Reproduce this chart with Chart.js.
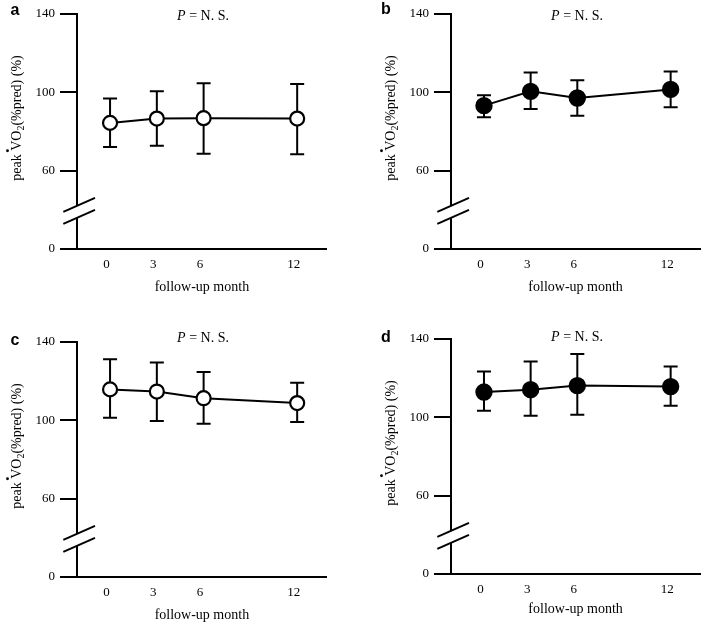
<!DOCTYPE html>
<html>
<head>
<meta charset="utf-8">
<script src="https://cdn.jsdelivr.net/npm/chart.js@4.4.1/dist/chart.umd.min.js"></script>
<style>
html,body{margin:0;padding:0;background:#fff;width:710px;height:625px;overflow:hidden;}
.p{position:absolute;width:336px;height:300px;}
</style>
</head>
<body>
<div class="p" style="left:0;top:0"><canvas id="ca" width="336" height="300"></canvas></div>
<div class="p" style="left:374px;top:0"><canvas id="cb" width="336" height="300"></canvas></div>
<div class="p" style="left:0;top:328px"><canvas id="cc" width="336" height="300"></canvas></div>
<div class="p" style="left:374px;top:325px"><canvas id="cd" width="336" height="300"></canvas></div>
<script>
// ---- data ----
const months = [0, 3, 6, 12];
const monthLabels = ['0', '3', '6', '12'];
const yTickValues = [20, 60, 100, 140];   // 20 = position of the "0" below the axis break
const yTickLabels = ['0', '60', '100', '140'];
const breakAt = 39;
const panelLetters = ['a', 'b', 'c', 'd'];
const xTitle = 'follow-up month';
const pLabel = 'P';
const pValue = ' = N. S.';

const meanA  = [84.4, 86.6, 86.8, 86.6];
const upperA = [96.8, 100.5, 104.6, 104.3];
const lowerA = [72.1, 72.7, 68.6, 68.4];

const meanB  = [93.2, 100.5, 97.1, 101.5];
const upperB = [98.5, 110.1, 106.2, 110.6];
const lowerB = [87.3, 91.5, 88.0, 92.4];

const meanC  = [115.8, 114.7, 111.3, 108.8];
const upperC = [131.2, 129.5, 124.7, 119.2];
const lowerC = [101.3, 99.7, 98.2, 99.2];

const meanD  = [112.9, 114.1, 116.2, 115.7];
const upperD = [123.4, 128.5, 132.3, 125.9];
const lowerD = [103.3, 100.8, 101.3, 105.9];

const SERIF = '"Liberation Serif", "Times New Roman", serif';

const errorBars = {
  id: 'errorBars',
  beforeDatasetsDraw(chart) {
    const ctx = chart.ctx, xs = chart.scales.x, ys = chart.scales.y;
    chart.data.datasets.forEach(ds => {
      ctx.save();
      ctx.strokeStyle = '#000';
      ctx.lineWidth = 2;
      ds.data.forEach((p, i) => {
        const x = xs.getPixelForValue(p.x);
        const yt = ys.getPixelForValue(ds.upper[i]);
        const yb = ys.getPixelForValue(ds.lower[i]);
        ctx.beginPath();
        ctx.moveTo(x, yt); ctx.lineTo(x, yb);
        ctx.moveTo(x - 7, yt); ctx.lineTo(x + 7, yt);
        ctx.moveTo(x - 7, yb); ctx.lineTo(x + 7, yb);
        ctx.stroke();
      });
      ctx.restore();
    });
  }
};

const deco = {
  id: 'deco',
  afterDraw(chart, args, opts) {
    const ctx = chart.ctx, ys = chart.scales.y;
    const ax = chart.chartArea.left;
    const top = chart.chartArea.top;
    ctx.save();
    // axis break
    const yc = ys.getPixelForValue(breakAt);
    ctx.fillStyle = '#fff';
    ctx.fillRect(ax - 3, yc - 6, 6, 12);
    ctx.strokeStyle = '#000';
    ctx.lineWidth = 2;
    const s = 0.44;
    [yc - 6, yc + 6].forEach(y0 => {
      ctx.beginPath();
      ctx.moveTo(ax - 13.7, y0 + 13.7 * s);
      ctx.lineTo(ax + 18, y0 - 18 * s);
      ctx.stroke();
    });
    // panel letter
    ctx.fillStyle = '#000';
    ctx.font = 'bold 16px "Liberation Sans", Arial, sans-serif';
    ctx.textAlign = 'center';
    ctx.textBaseline = 'middle';
    ctx.fillText(opts.letter, opts.lx, top + opts.ly);
    // P = N. S.
    ctx.font = 'italic 14px ' + SERIF;
    const w1 = ctx.measureText(pLabel).width;
    ctx.font = '14px ' + SERIF;
    const w2 = ctx.measureText(pValue).width;
    const sx = 203 - (w1 + w2) / 2;
    const by = top + opts.py + 5;
    ctx.textAlign = 'left';
    ctx.textBaseline = 'alphabetic';
    ctx.font = 'italic 14px ' + SERIF;
    ctx.fillText(pLabel, sx, by);
    ctx.font = '14px ' + SERIF;
    ctx.fillText(pValue, sx + w1, by);
    // y title
    const parts = ['peak V', 'O', '2', '(%pred) (%)'];
    ctx.font = '14px ' + SERIF;
    const wA = ctx.measureText('peak ').width;
    const wV = ctx.measureText('V').width;
    const wP0 = ctx.measureText(parts[0]).width;
    const wP1 = ctx.measureText(parts[1]).width;
    const wP3 = ctx.measureText(parts[3]).width;
    ctx.font = '10px ' + SERIF;
    const wP2 = ctx.measureText(parts[2]).width;
    const total = wP0 + wP1 + wP2 + wP3;
    ctx.translate(21, top + 104);
    ctx.rotate(-Math.PI / 2);
    let u = -total / 2;
    ctx.font = '14px ' + SERIF;
    ctx.fillText(parts[0], u, 0); u += wP0;
    ctx.fillText(parts[1], u, 0); u += wP1;
    ctx.font = '10px ' + SERIF;
    ctx.fillText(parts[2], u, 3); u += wP2;
    ctx.font = '14px ' + SERIF;
    ctx.fillText(parts[3], u, 0);
    ctx.beginPath();
    ctx.arc(-total / 2 + wA + wV / 2 - 5, -13.5, 1.4, 0, Math.PI * 2);
    ctx.fill();
    ctx.restore();
  }
};

function makeChart(id, letter, mean, upper, lower, filled, pos) {
  return new Chart(document.getElementById(id), {
    type: 'line',
    data: {
      datasets: [{
        data: months.map((m, i) => ({ x: m, y: mean[i] })),
        upper: upper,
        lower: lower,
        borderColor: '#000',
        borderWidth: 2,
        tension: 0,
        fill: false,
        pointRadius: filled ? 7.6 : 7,
        pointBorderWidth: 2.2,
        pointBorderColor: '#000',
        pointBackgroundColor: filled ? '#000' : '#fff'
      }]
    },
    options: {
      responsive: false,
      animation: false,
      events: [],
      layout: { padding: { top: 14, right: 2, left: 0, bottom: 0 } },
      plugins: {
        legend: { display: false },
        tooltip: { enabled: false },
        deco: { letter: letter, lx: pos.lx, ly: pos.ly, py: pos.py }
      },
      scales: {
        x: {
          type: 'linear',
          min: -2.12,
          max: 13.9,
          afterBuildTicks: sc => { sc.ticks = months.map(v => ({ value: v })); },
          grid: { drawOnChartArea: false, drawTicks: false },
          border: { color: '#000', width: 2 },
          ticks: {
            color: '#000',
            font: { family: SERIF, size: 13 },
            padding: 8,
            labelOffset: -3.5,
            maxRotation: 0,
            callback: (v) => monthLabels[months.indexOf(v)]
          },
          title: {
            display: true, text: xTitle, color: '#000',
            font: { family: SERIF, size: 14 },
            padding: { top: 4, bottom: pos.tb }
          },
          afterFit: sc => { sc.height = 51; }
        },
        y: {
          type: 'linear',
          min: 20,
          max: 140,
          afterBuildTicks: sc => { sc.ticks = yTickValues.map(v => ({ value: v })); },
          grid: { drawOnChartArea: false, color: '#000', lineWidth: 2, tickLength: 17 },
          border: { color: '#000', width: 2 },
          ticks: {
            color: '#000',
            font: { family: SERIF, size: 13 },
            padding: 5,
            callback: (v) => yTickLabels[yTickValues.indexOf(v)]
          },
          afterFit: sc => { sc.width = 77; }
        }
      }
    },
    plugins: [errorBars, deco]
  });
}

makeChart('ca', panelLetters[0], meanA, upperA, lowerA, false, { lx: 15, ly: -3, py: 0.5, tb: 4.6 });
makeChart('cb', panelLetters[1], meanB, upperB, lowerB, true,  { lx: 12, ly: -4, py: 0.5, tb: 4.6 });
makeChart('cc', panelLetters[2], meanC, upperC, lowerC, false, { lx: 15, ly: -1, py: -5, tb: 4.6 });
makeChart('cd', panelLetters[3], meanD, upperD, lowerD, true,  { lx: 12, ly: -1, py: -3, tb: 7 });
</script>
</body>
</html>
